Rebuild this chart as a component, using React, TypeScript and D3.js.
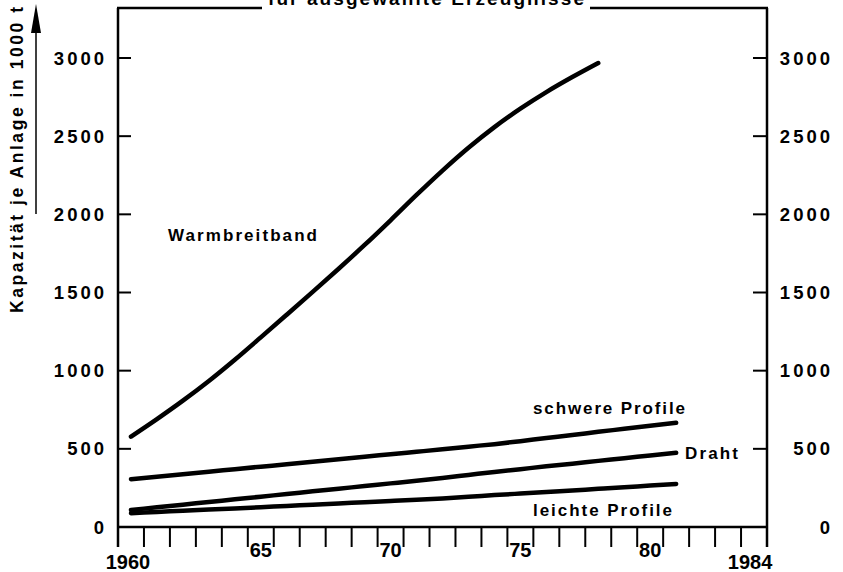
import React from 'react';
import * as d3 from 'd3';

// Kapazität je Anlage in 1000 t (one value per year, plotted mid-year)
const warmYears = d3.range(1960, 1979);
const warmbreitband = [578, 690, 808, 934, 1070, 1213, 1358, 1504, 1652, 1804, 1962, 2124, 2280, 2426, 2558, 2676, 2782, 2878, 2968];

const profileYears = d3.range(1960, 1982);
const schwereProfile = [306, 321, 338, 353, 370, 386, 401, 418, 433, 450, 465, 481, 497, 514, 530, 549, 569, 588, 609, 628, 648, 667];
const draht = [109, 126, 143, 160, 177, 194, 211, 228, 245, 262, 279, 296, 314, 333, 352, 370, 388, 405, 423, 440, 458, 475];
const leichteProfile = [88, 96, 104, 112, 119, 127, 135, 143, 151, 158, 166, 174, 183, 193, 204, 214, 224, 234, 244, 254, 265, 275];

const yTicks = [0, 500, 1000, 1500, 2000, 2500, 3000];
const yearLabels = [
  { year: 1960, text: '1960' },
  { year: 1965, text: '65' },
  { year: 1970, text: '70' },
  { year: 1975, text: '75' },
  { year: 1980, text: '80' },
  { year: 1984, text: '1984' },
];

const font = '"Liberation Sans", Arial, Helvetica, sans-serif';

export default function App() {
  const width = 843;
  const height = 572;
  const left = 118;
  const right = 767;
  const bottom = 527;
  const top = 8;
  const ls = 3;

  const x = d3.scaleLinear().domain([1960, 1985]).range([left, right]);
  const y = d3.scaleLinear().domain([0, 3000]).range([bottom, 58]);

  const line = d3
    .line<[number, number]>()
    .x((d) => x(d[0] + 0.5))
    .y((d) => y(d[1]))
    .curve(d3.curveMonotoneX);

  const series = [
    { years: warmYears, values: warmbreitband },
    { years: profileYears, values: schwereProfile },
    { years: profileYears, values: draht },
    { years: profileYears, values: leichteProfile },
  ];

  const tickYears = d3.range(1961, 1985);

  return (
    <svg
      width={width}
      height={height}
      style={{ position: 'absolute', left: 0, top: 0, background: '#fff' }}
      fontFamily={font}
      fontWeight="bold"
    >
      <rect width={width} height={height} fill="#fff" />

      {/* title, cut at the top edge as in the original scan */}
      <text x={268} y={4.5} fontSize={19} textLength={316} lengthAdjust="spacing">
        für ausgewählte Erzeugnisse
      </text>

      {/* frame */}
      <g stroke="#000" strokeWidth={2.5} fill="none">
        <line x1={left} y1={top} x2={left} y2={547} />
        <line x1={right} y1={top} x2={right} y2={547} />
        <line x1={left} y1={bottom} x2={right} y2={bottom} />
        <line x1={left - 1} y1={top} x2={262} y2={top} />
        <line x1={590} y1={top} x2={right + 1} y2={top} />
      </g>

      {/* y ticks, both sides */}
      <g stroke="#000" strokeWidth={2}>
        {yTicks.filter((v) => v > 0).map((v) => (
          <g key={v}>
            <line x1={left} x2={left + 13} y1={y(v)} y2={y(v)} />
            <line x1={right - 14} x2={right} y1={y(v)} y2={y(v)} />
          </g>
        ))}
      </g>
      <g fontSize={18.5} letterSpacing={ls}>
        {yTicks.map((v) => (
          <g key={v}>
            <text x={104 + ls} y={y(v)} dy="0.36em" textAnchor="end">
              {v}
            </text>
            <text x={830 + ls} y={y(v)} dy="0.36em" textAnchor="end">
              {v}
            </text>
          </g>
        ))}
      </g>

      {/* x ticks */}
      <g stroke="#000" strokeWidth={2}>
        {tickYears.map((yr) => (
          <line key={yr} x1={x(yr)} x2={x(yr)} y1={bottom} y2={547} />
        ))}
      </g>
      <g fontSize={20}>
        {yearLabels.map((d) => {
          const long = d.text.length > 2;
          return (
            <text
              key={d.text}
              x={x(d.year + 0.5) - (d.year === 1960 ? 3 : d.year === 1984 ? 4 : 0)}
              y={long ? 569 : 557}
              textAnchor="middle"
            >
              {d.text}
            </text>
          );
        })}
      </g>

      {/* y axis title with arrow */}
      <text
        transform="translate(23,313) rotate(-90)"
        fontSize={17.5}
        textLength={306}
        lengthAdjust="spacing"
      >
        Kapazität je Anlage in 1000 t
      </text>
      <line x1={36} x2={36} y1={214} y2={28} stroke="#000" strokeWidth={1.5} />
      <path d="M36,4 L31,33 L41,33 Z" fill="#000" />

      {/* series */}
      <g fill="none" stroke="#000" strokeWidth={4.5} strokeLinecap="round" strokeLinejoin="round">
        {series.map((s, i) => (
          <path key={i} d={line(s.years.map((yr, j) => [yr, s.values[j]] as [number, number])) || ''} />
        ))}
      </g>

      {/* series labels */}
      <g fontSize={17}>
        <text x={168} y={241} textLength={149} lengthAdjust="spacing">Warmbreitband</text>
        <text x={533} y={414} textLength={152} lengthAdjust="spacing">schwere Profile</text>
        <text x={685} y={459} textLength={53} lengthAdjust="spacing">Draht</text>
        <text x={533} y={516} textLength={139} lengthAdjust="spacing">leichte Profile</text>
      </g>
    </svg>
  );
}
